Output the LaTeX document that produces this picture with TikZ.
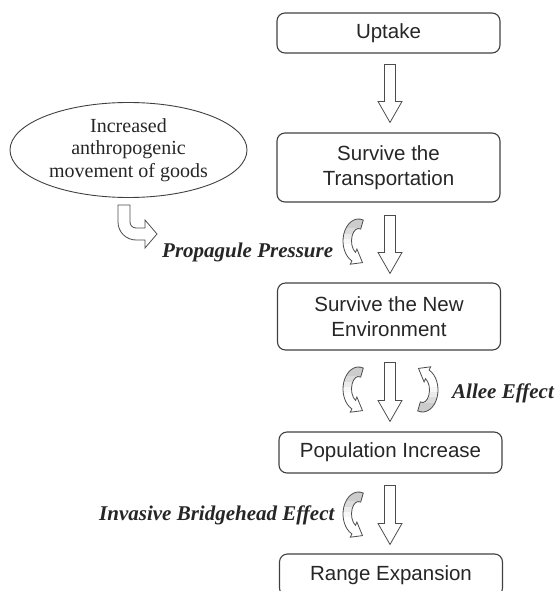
\documentclass[tikz,border=0pt]{standalone}
\usepackage{fontspec}
\setmainfont{Liberation Serif}
\newfontfamily\boxfont{Liberation Sans}
\newfontfamily\labelfont{Liberation Serif}
\usetikzlibrary{calc,shapes.geometric}
\tikzset{
  stagebox/.style={draw=black!75, line width=1.1pt, rounded corners=8pt,
    minimum width=223pt, align=center, inner sep=2pt,
    font=\boxfont\fontsize{20.5}{24.5}\selectfont, text=black!85},
  sourceel/.style={ellipse, draw=black!75, line width=0.9pt, minimum width=237pt,
    minimum height=95pt, inner sep=0pt, align=center,
    font=\fontsize{20}{22.5}\selectfont, text=black!85},
  effectlabel/.style={inner sep=0pt, anchor=base west,
    font=\labelfont\bfseries\itshape\fontsize{21}{24}\selectfont, text=black!85},
  blockline/.style={draw=black!70, line width=0.8pt, fill=white, line join=miter},
  curvline/.style={draw=black!70, line width=0.8pt, line join=miter},
}
\newcommand{\blockarrow}[2]{%
  \draw[blockline] let \p1=(#1), \p2=(#2) in
    (\x1-5.5pt,\y1) -- (\x1+5.5pt,\y1) -- (\x1+5.5pt,\y2+21pt) -- (\x1+12pt,\y2+21pt)
    -- (\x1,\y2) -- (\x1-12pt,\y2+21pt) -- (\x1-5.5pt,\y2+21pt) -- cycle;}
% curved arrow outline (local coordinates, y pointing down)
\newcommand{\curvepath}{%
  (288:15.5 and 22) arc[start angle=288, end angle=115, x radius=15.5, y radius=22]
  -- (-8.2,23.2) -- (4.0,21.6) -- (-1.6,8.0)
  -- (115:7 and 12.5) arc[start angle=115, end angle=288, x radius=7, y radius=12.5] -- cycle}
\newcommand{\curvarrow}{%
  \fill[white] \curvepath;
  \begin{scope}
    \clip \curvepath;
    \fill[black!20] (-20,-26) rectangle (20,-13);
    \fill[black!14] (-20,-13) rectangle (20,-7);
    \fill[black!8] (-20,-7) rectangle (20,-2);
    \fill[black!3] (-20,-2) rectangle (20,3);
  \end{scope}
  \path[curvline] \curvepath;}
\begin{document}
\begin{tikzpicture}[x=1pt,y=-1pt]
\useasboundingbox (0,0) rectangle (554,591);
\clip (0,0) rectangle (554,591);
% stages
\node[stagebox, minimum height=40pt] (up) at (388.5,33) {Uptake};
\node[stagebox, minimum height=69pt] (tr) at (388.5,167.5) {Survive the\\Transportation};
\node[stagebox, minimum height=67pt] (en) at (389,316.5) {Survive the New\\Environment};
\node[stagebox, minimum height=41pt] (po) at (390.5,452.5) {Population Increase};
\node[stagebox, minimum height=42pt] (ra) at (391,575) {Range Expansion};
% source ellipse
\node[sourceel] (el) at (128.5,150) {Increased\\anthropogenic\\movement of goods};
% labels
\node[effectlabel] (pp) at (162,257) {Propagule Pressure};
\node[effectlabel] (ae) at (452,398) {Allee Effect};
\node[effectlabel] (ib) at (99,520) {Invasive Bridgehead Effect};
% block arrows
\coordinate (ax) at (390,0);
\coordinate (a1s) at ($(up.south -| ax)+(0,11)$);
\coordinate (a1e) at ($(tr.north -| ax)+(0,-10)$);
\coordinate (a2s) at ($(tr.south -| ax)+(0,13)$);
\coordinate (a2e) at ($(en.north -| ax)+(0,-9)$);
\coordinate (a3s) at ($(en.south -| ax)+(0,12)$);
\coordinate (a3e) at ($(po.north -| ax)+(0,-10)$);
\coordinate (a4s) at ($(po.south -| ax)+(0,12)$);
\coordinate (a4e) at ($(ra.north -| ax)+(0,-9)$);
\blockarrow{a1s}{a1e}
\blockarrow{a2s}{a2e}
\blockarrow{a3s}{a3e}
\blockarrow{a4s}{a4e}
% hook arrow from ellipse to Propagule Pressure
\draw[blockline] (118,205) -- (118,222) arc[start angle=180, end angle=90, radius=18]
  -- (145,240) -- (145,248) -- (157,234) -- (145,220) -- (145,228) -- (136,228)
  arc[start angle=90, end angle=180, radius=6] -- (130,205) -- cycle;
% curved arrows
\begin{scope}[shift={(358.5,241)}]\curvarrow\end{scope}
\begin{scope}[shift={(358.5,389)}]\curvarrow\end{scope}
\begin{scope}[shift={(422.5,390)}, rotate=180]\curvarrow\end{scope}
\begin{scope}[shift={(358.5,514)}]\curvarrow\end{scope}
\end{tikzpicture}
\end{document}
